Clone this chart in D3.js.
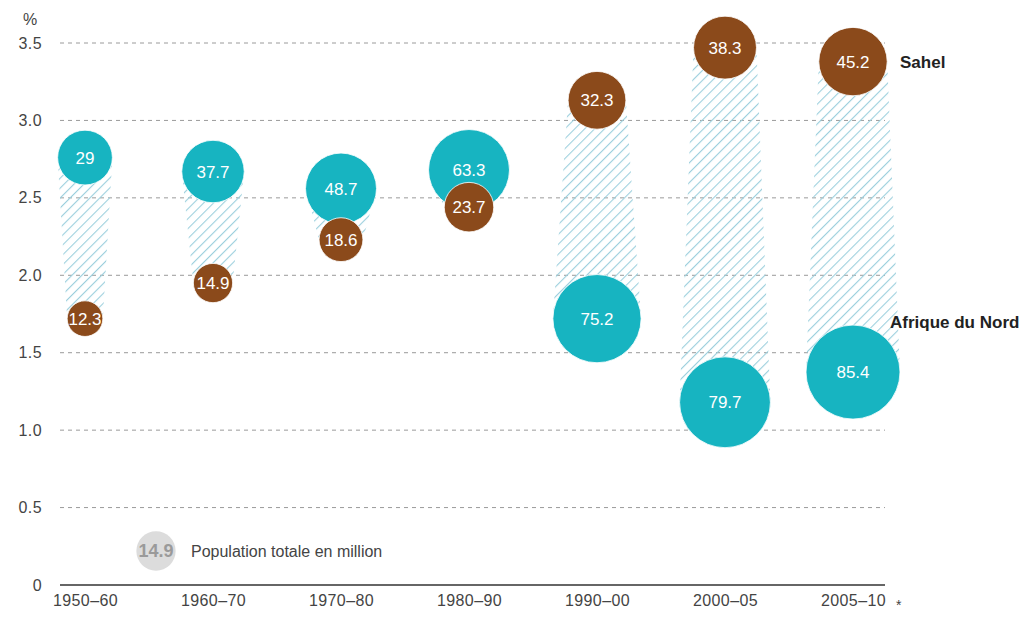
<!DOCTYPE html>
<html>
<head>
<meta charset="utf-8">
<script src="https://cdn.jsdelivr.net/npm/d3@7"></script>
<style>
  body { margin: 0; background: #fff; }
  text { font-family: "Liberation Sans", Arial, Helvetica, sans-serif; }
</style>
</head>
<body>
<div id="chart"></div>
<script>
///////////////////////////////////////////////////////////////////////////
///////////////////////////////// Data ////////////////////////////////////
///////////////////////////////////////////////////////////////////////////

var periods = ["1950–60", "1960–70", "1970–80", "1980–90", "1990–00", "2000–05", "2005–10"]
// growth rate (%) and total population (million)
var northRate = [2.76, 2.67, 2.56, 2.68, 1.72, 1.18, 1.375]
var northPop = [29, 37.7, 48.7, 63.3, 75.2, 79.7, 85.4]
var sahelRate = [1.72, 1.95, 2.23, 2.44, 3.13, 3.47, 3.38]
var sahelPop = [12.3, 14.9, 18.6, 23.7, 32.3, 38.3, 45.2]
var yTicks = [0, 0.5, 1.0, 1.5, 2.0, 2.5, 3.0, 3.5]
var legendValue = 14.9

///////////////////////////////////////////////////////////////////////////
///////////////////////////////// Globals /////////////////////////////////
///////////////////////////////////////////////////////////////////////////

var width = 1024, height = 617
var teal = "#17b4c1", brown = "#8b4a1b", hatchColor = "#9ccfdd"

var svg = d3.select("#chart").append("svg")
  .attr("width", width)
  .attr("height", height)

var x = d3.scalePoint().domain(periods).range([85, 853])
var y = d3.scaleLinear().domain([0, 3.5]).range([585, 43])
var r = d3.scaleSqrt().domain([0, 85.4]).range([0, 47])

var data = periods.map(function (p, i) {
  return { period: p, nRate: northRate[i], nPop: northPop[i], sRate: sahelRate[i], sPop: sahelPop[i] }
})

//////////////////// Hatch pattern ///////////////////////
var pattern = svg.append("defs").append("pattern")
  .attr("id", "hatch")
  .attr("patternUnits", "userSpaceOnUse")
  .attr("width", 7)
  .attr("height", 7)
  .attr("patternTransform", "rotate(45)")
pattern.append("rect")
  .attr("x", 0).attr("y", 0)
  .attr("width", 1.1).attr("height", 7)
  .style("fill", hatchColor)

///////////////////////////////////////////////////////////////////////////
///////////////////////////////// Axes ////////////////////////////////////
///////////////////////////////////////////////////////////////////////////

var grid = svg.append("g")
grid.selectAll("line")
  .data(yTicks.filter(d => d > 0))
  .enter().append("line")
  .attr("x1", 60).attr("x2", 885)
  .attr("y1", d => y(d)).attr("y2", d => y(d))
  .style("stroke", "#9a9a9a")
  .style("stroke-width", 1)
  .style("stroke-dasharray", "4,4")

var yAxis = d3.axisLeft(y)
  .tickValues(yTicks)
  .tickSize(0)
  .tickPadding(0)
  .tickFormat(d => d === 0 ? "0" : d3.format(".1f")(d))

svg.append("g")
  .attr("transform", "translate(42,0)")
  .call(yAxis)
  .call(g => g.select(".domain").remove())
  .selectAll("text")
    .style("font-size", "16px")
    .style("letter-spacing", "0.4px")
    .style("fill", "#444")
    .style("font-family", "'Liberation Sans', Arial, sans-serif")

svg.append("text")
  .attr("x", 23).attr("y", 25)
  .style("font-size", "16px")
  .style("fill", "#444")
  .text("%")

var xAxis = d3.axisBottom(x).tickSize(0).tickPadding(10)
svg.append("g")
  .attr("transform", "translate(0," + y(0) + ")")
  .call(xAxis)
  .call(g => g.select(".domain").remove())
  .selectAll("text")
    .style("font-size", "16px")
    .style("letter-spacing", "0.4px")
    .style("fill", "#444")
    .style("font-family", "'Liberation Sans', Arial, sans-serif")

svg.append("line")
  .attr("x1", 60).attr("x2", 885)
  .attr("y1", y(0)).attr("y2", y(0))
  .style("stroke", "#333")
  .style("stroke-width", 1.5)

svg.append("text")
  .attr("x", 896).attr("y", 610)
  .style("font-size", "14px")
  .style("fill", "#444")
  .text("*")

///////////////////////////////////////////////////////////////////////////
////////////////////////////// Hatched bands //////////////////////////////
///////////////////////////////////////////////////////////////////////////

svg.append("g").selectAll("path")
  .data(data)
  .enter().append("path")
  .attr("d", function (d) {
    var cx = x(d.period)
    var top = d.nRate > d.sRate ? { v: d.nRate, p: d.nPop } : { v: d.sRate, p: d.sPop }
    var bot = d.nRate > d.sRate ? { v: d.sRate, p: d.sPop } : { v: d.nRate, p: d.nPop }
    var rt = r(top.p), rb = r(bot.p)
    return "M" + (cx - rt) + "," + y(top.v) + "L" + (cx + rt) + "," + y(top.v) +
      "L" + (cx + rb) + "," + y(bot.v) + "L" + (cx - rb) + "," + y(bot.v) + "Z"
  })
  .style("fill", "url(#hatch)")

///////////////////////////////////////////////////////////////////////////
///////////////////////////////// Bubbles /////////////////////////////////
///////////////////////////////////////////////////////////////////////////

function bubbles(rateKey, popKey, color) {
  var g = svg.append("g").selectAll("g")
    .data(data)
    .enter().append("g")
    .attr("transform", d => "translate(" + x(d.period) + "," + y(d[rateKey]) + ")")
  g.append("circle")
    .attr("r", d => r(d[popKey]))
    .style("fill", color)
    .style("stroke", "#fff")
    .style("stroke-width", 0.8)
  g.append("text")
    .attr("text-anchor", "middle")
    .attr("dy", "0.36em")
    .style("font-size", "17px")
    .style("fill", "#fff")
    .text(d => d[popKey])
}

bubbles("nRate", "nPop", teal)
bubbles("sRate", "sPop", brown)

//////////////////// Series labels ///////////////////////
svg.append("text")
  .attr("x", 900).attr("y", y(sahelRate[6]) + 6)
  .style("font-size", "17px")
  .style("font-weight", "bold")
  .style("fill", "#222")
  .text("Sahel")

svg.append("text")
  .attr("x", 890).attr("y", 328)
  .style("font-size", "17px")
  .style("font-weight", "bold")
  .style("fill", "#222")
  .text("Afrique du Nord")

//////////////////// Legend ///////////////////////
var legend = svg.append("g").attr("transform", "translate(156,551)")
legend.append("circle")
  .attr("r", r(legendValue))
  .style("fill", "#dcdcdc")
legend.append("text")
  .attr("text-anchor", "middle")
  .attr("dy", "0.36em")
  .style("font-size", "18px")
  .style("font-weight", "bold")
  .style("fill", "#9a9a9a")
  .text(legendValue)
legend.append("text")
  .attr("x", 35)
  .attr("dy", "0.36em")
  .style("font-size", "16px")
  .style("fill", "#444")
  .text("Population totale en million")
</script>
</body>
</html>
